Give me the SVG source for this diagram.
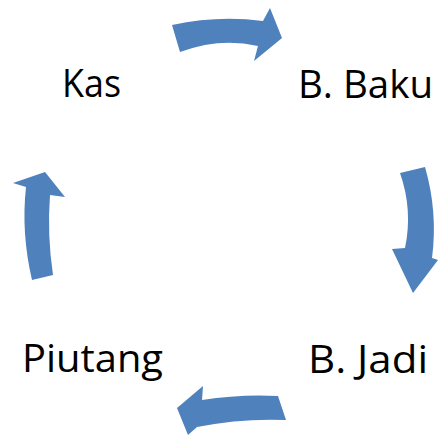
<svg xmlns="http://www.w3.org/2000/svg" width="438" height="436" viewBox="0 0 438 436">
  <style>
    .lbl { font-family: "Open Sans", "Liberation Sans", sans-serif; font-size: 38px; fill: #000; }
    .arr { fill: #4f81bd; }
  </style>
  <rect width="438" height="436" fill="#fff"/>
  <g id="connectors">
    <!-- Kas to B. Baku -->
    <path class="arr" d="M172,25 Q218,15 263,21 L270,8 L282,38 L254,61 L258,46 Q220,37 180,52 Z"/>
    <!-- B. Baku to B. Jadi -->
    <path class="arr" d="M400,173 L425,167 Q438,212 432,258 L438,260 L413,293 L392,249 L405,248 Q413,210 400,173 Z"/>
    <!-- B. Jadi to Piutang -->
    <path class="arr" d="M278,396 L286,420 Q242,418 197,427 L188,435 L177,408 L203,386 L202,400 Q240,394 278,396 Z"/>
    <!-- Piutang to Kas -->
    <path class="arr" d="M45,172 L65,197 L50,195 Q47,235 53,275 L32,280 Q21,233 26,187 L13,183 Z"/>
  </g>
  <g id="kas"><text class="lbl" x="62" y="97" textLength="59" lengthAdjust="spacingAndGlyphs">Kas</text></g>
  <g id="b-baku"><text class="lbl" x="298" y="98" textLength="135" lengthAdjust="spacingAndGlyphs">B. Baku</text></g>
  <g id="piutang"><text class="lbl" x="22" y="372" textLength="141" lengthAdjust="spacingAndGlyphs">Piutang</text></g>
  <g id="b-jadi"><text class="lbl" x="308" y="373" textLength="120" lengthAdjust="spacingAndGlyphs">B. Jadi</text></g>
</svg>
